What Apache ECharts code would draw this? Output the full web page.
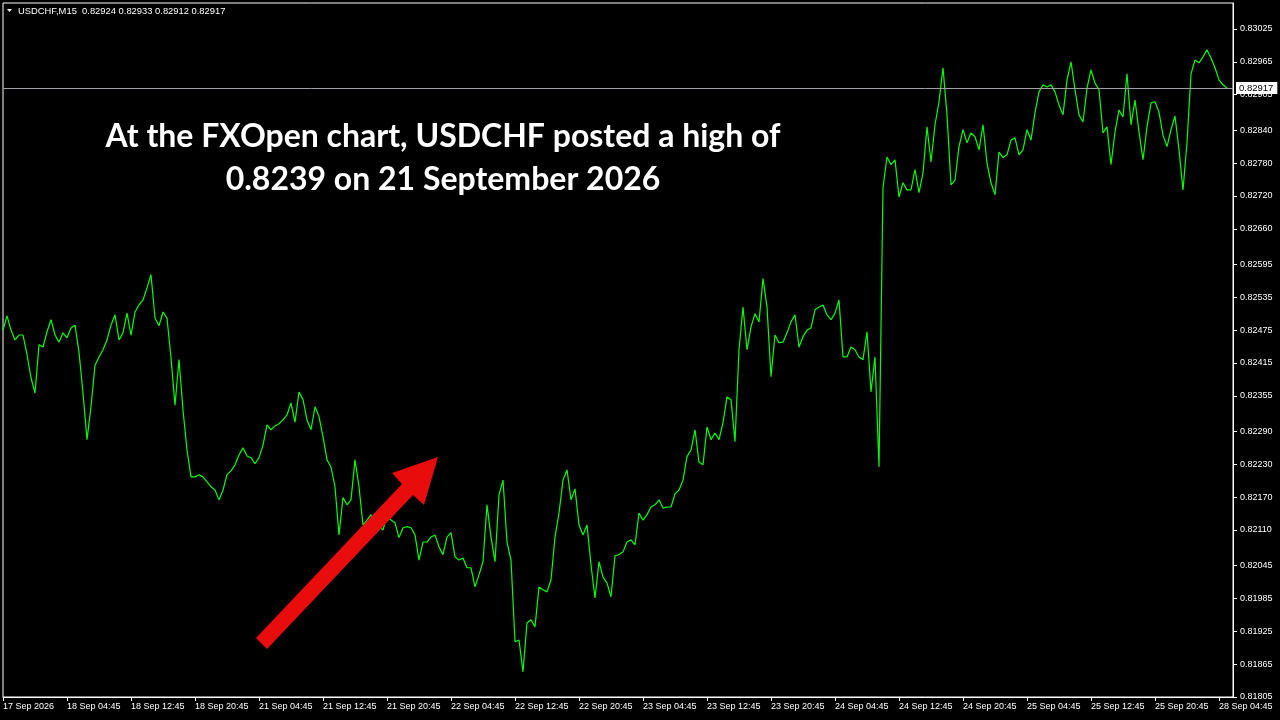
<!DOCTYPE html>
<html>
<head>
<meta charset="utf-8">
<title>USDCHF M15</title>
<script src="https://cdn.jsdelivr.net/npm/echarts@6/dist/echarts.min.js"></script>
<style>
html,body{margin:0;padding:0;background:#000;}
#chart{width:1280px;height:720px;}
</style>
</head>
<body>
<div id="chart"></div>
<script>
// ---- data ----
const symbolName = 'USDCHF,M15';
const headerOHLC = [0.82924, 0.82933, 0.82912, 0.82917];

const xTickLabels = ['17 Sep 2026','18 Sep 04:45','18 Sep 12:45','18 Sep 20:45','21 Sep 04:45','21 Sep 12:45','21 Sep 20:45','22 Sep 04:45','22 Sep 12:45','22 Sep 20:45','23 Sep 04:45','23 Sep 12:45','23 Sep 20:45','24 Sep 04:45','24 Sep 12:45','24 Sep 20:45','25 Sep 04:45','25 Sep 12:45','25 Sep 20:45','28 Sep 04:45'];

const yTickLabels = ['0.81805','0.81865','0.81925','0.81985','0.82045','0.82110','0.82170','0.82230','0.82290','0.82355','0.82415','0.82475','0.82535','0.82595','0.82660','0.82720','0.82780','0.82840','0.82905','0.82965','0.83025'];

// closing prices, one every two M15 bars (30 min)
const closes = [
0.82475,0.82501,0.82475,0.82457,0.82466,0.82466,0.82430,0.82388,0.82360,0.82448,
0.82444,0.82472,0.82494,0.82466,0.82453,0.82470,0.82461,0.82479,0.82484,0.82435,
0.82360,0.82275,0.82335,0.82411,0.82426,0.82439,0.82457,0.82484,0.82503,0.82457,
0.82470,0.82506,0.82466,0.82508,0.82521,0.82530,0.82552,0.82576,0.82497,0.82483,
0.82508,0.82497,0.82424,0.82338,0.82421,0.82329,0.82256,0.82207,0.82207,0.82211,
0.82207,0.82198,0.82189,0.82183,0.82165,0.82183,0.82211,0.82218,0.82229,0.82247,
0.82260,0.82245,0.82242,0.82231,0.82242,0.82265,0.82302,0.82293,0.82300,0.82304,
0.82311,0.82320,0.82342,0.82307,0.82362,0.82348,0.82311,0.82293,0.82335,0.82317,
0.82280,0.82238,0.82225,0.82189,0.82101,0.82169,0.82156,0.82165,0.82238,0.82189,
0.82119,0.82128,0.82138,0.82114,0.82116,0.82110,0.82136,0.82128,0.82123,0.82096,
0.82114,0.82116,0.82114,0.82101,0.82055,0.82088,0.82088,0.82097,0.82101,0.82079,
0.82065,0.82097,0.82105,0.82061,0.82055,0.82059,0.82041,0.82041,0.82006,0.82028,
0.82052,0.82156,0.82097,0.82052,0.82174,0.82201,0.82088,0.82055,0.81906,0.81909,
0.81851,0.81940,0.81946,0.81933,0.82006,0.82001,0.81997,0.82019,0.82097,0.82141,
0.82201,0.82220,0.82165,0.82185,0.82119,0.82101,0.82119,0.82046,0.81986,0.82052,
0.82024,0.82013,0.81988,0.82063,0.82065,0.82070,0.82088,0.82092,0.82083,0.82141,
0.82128,0.82138,0.82152,0.82156,0.82165,0.82150,0.82152,0.82152,0.82176,0.82183,
0.82201,0.82244,0.82256,0.82293,0.82234,0.82229,0.82298,0.82275,0.82287,0.82275,
0.82306,0.82353,0.82348,0.82271,0.82439,0.82517,0.82439,0.82481,0.82505,0.82490,
0.82569,0.82517,0.82390,0.82466,0.82452,0.82453,0.82470,0.82490,0.82503,0.82444,
0.82463,0.82475,0.82479,0.82512,0.82517,0.82521,0.82503,0.82494,0.82506,0.82530,
0.82426,0.82426,0.82444,0.82439,0.82426,0.82421,0.82472,0.82362,0.82426,0.82225,
0.82735,0.82791,0.82777,0.82786,0.82718,0.82744,0.82731,0.82731,0.82768,0.82726,
0.82762,0.82846,0.82782,0.82850,0.82892,0.82954,0.82868,0.82740,0.82749,0.82810,
0.82841,0.82817,0.82835,0.82828,0.82804,0.82850,0.82780,0.82744,0.82722,0.82800,
0.82790,0.82795,0.82822,0.82826,0.82795,0.82804,0.82841,0.82822,0.82872,0.82910,
0.82923,0.82919,0.82923,0.82910,0.82886,0.82868,0.82932,0.82965,0.82914,0.82868,
0.82855,0.82917,0.82950,0.82926,0.82914,0.82835,0.82846,0.82777,0.82837,0.82877,
0.82864,0.82943,0.82850,0.82895,0.82837,0.82786,0.82846,0.82890,0.82892,0.82873,
0.82831,0.82810,0.82841,0.82866,0.82804,0.82731,0.82817,0.82943,0.82968,0.82963,
0.82974,0.82987,0.82972,0.82954,0.82932,0.82923,0.82917
];

const titleLines = ['At the FXOpen chart, USDCHF posted a high of', '0.8239 on 21 September 2026'];

// ---- chart ----
const pointsPerLabel = 16;
const xTickIdx = xTickLabels.map((_, k) => k * pointsPerLabel);
const yTickVals = yTickLabels.map(Number);
const lastPrice = closes[closes.length - 1];
const seriesData = closes.map((p, i) => [i, p]);

const chart = echarts.init(document.getElementById('chart'), null, {renderer: 'canvas'});
const txtFont = 'Liberation Sans';

chart.setOption({
  backgroundColor: '#000000',
  animation: false,
  grid: {left: 3, top: 3, right: 47, bottom: 23, show: true, borderColor: '#ffffff', borderWidth: 1},
  xAxis: {
    type: 'value', min: 0, max: 307.5,
    axisLine: {show: true, onZero: false, lineStyle: {color: '#ffffff', width: 1}},
    axisTick: {show: true, inside: false, length: 4, lineStyle: {color: '#ffffff'}, customValues: xTickIdx},
    axisLabel: {
      show: true, customValues: xTickIdx, color: '#ffffff', fontFamily: txtFont, fontSize: 9,
      align: 'left', margin: 5,
      formatter: v => xTickLabels[Math.round(v / pointsPerLabel)] || ''
    },
    splitLine: {show: false}
  },
  yAxis: {
    type: 'value', position: 'right', min: 0.81805, max: 0.830723,
    axisLine: {show: true, onZero: false, lineStyle: {color: '#ffffff', width: 1}},
    axisTick: {show: true, inside: false, length: 4, lineStyle: {color: '#ffffff'}, customValues: yTickVals},
    axisLabel: {
      show: true, customValues: yTickVals, color: '#ffffff', fontFamily: txtFont, fontSize: 9, margin: 7,
      formatter: v => v.toFixed(5)
    },
    splitLine: {show: false}
  },
  series: [{
    type: 'line',
    data: seriesData,
    symbol: 'none',
    lineStyle: {color: '#00ff00', width: 1.2},
    itemStyle: {color: '#00ff00'},
    emphasis: {disabled: true},
    markLine: {
      silent: true,
      precision: 5,
      symbol: ['none', 'none'],
      animation: false,
      lineStyle: {color: '#a0a0a8', type: 'solid', width: 1},
      label: {
        show: true, position: 'end', distance: 3,
        formatter: () => lastPrice.toFixed(5),
        backgroundColor: '#ffffff', color: '#000000',
        fontFamily: txtFont, fontSize: 9.5, padding: [1, 4, 1, 3]
      },
      emphasis: {disabled: true},
      data: [{yAxis: lastPrice}]
    }
  }],
  graphic: [
    {type: 'polygon', shape: {points: [[7, 9], [12, 9], [9.5, 12]]}, style: {fill: '#ffffff'}, silent: true},
    {type: 'text', x: 18, y: 11, silent: true, style: {
      text: symbolName + '  ' + headerOHLC.map(v => v.toFixed(5)).join(' '),
      fill: '#ffffff', font: '9.4px "Liberation Sans"', align: 'left', verticalAlign: 'middle'}},
    {type: 'text', x: 443, y: 137, silent: true, z: 10, style: {
      text: titleLines[0], fill: '#ffffff', font: 'bold 32px Lato', align: 'center', verticalAlign: 'middle'}},
    {type: 'text', x: 443, y: 180, silent: true, z: 10, style: {
      text: titleLines[1], fill: '#ffffff', font: 'bold 32px Lato', align: 'center', verticalAlign: 'middle'}},
    {type: 'polygon', z: 20, silent: true,
      shape: {points: [[256, 638], [402, 484], [392, 473], [438, 457], [424, 505], [413, 495], [267, 649]]},
      style: {fill: '#e80c0c'}}
  ]
});
</script>
</body>
</html>
